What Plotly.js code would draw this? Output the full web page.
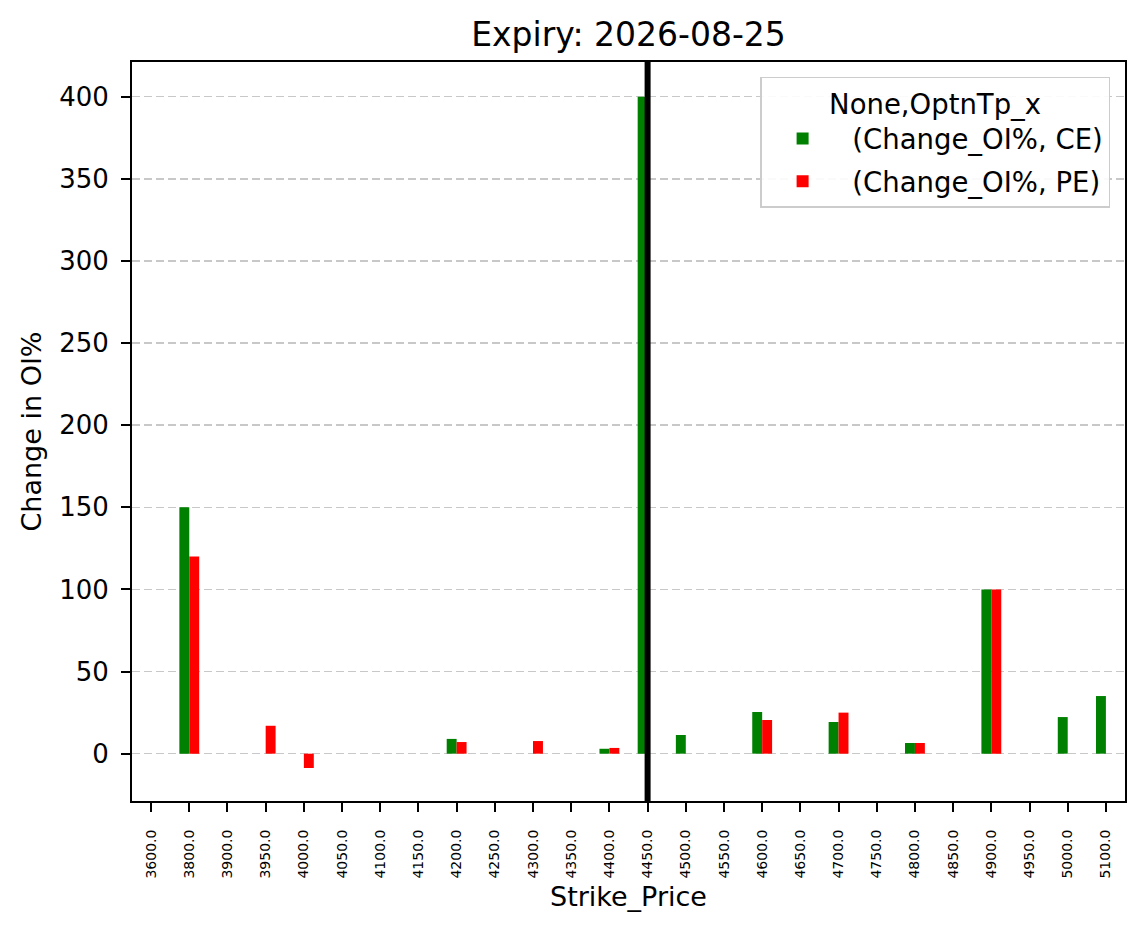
<!DOCTYPE html>
<html>
<head>
<meta charset="utf-8">
<script src="https://cdn.plot.ly/plotly-3.0.1.min.js"></script>
<style>html,body{margin:0;padding:0;background:#fff;}#chart{width:1143px;height:939px;}</style>
</head>
<body>
<div id="chart"></div>
<script>
const strikes = ["3600.0","3800.0","3900.0","3950.0","4000.0","4050.0","4100.0","4150.0","4200.0","4250.0","4300.0","4350.0","4400.0","4450.0","4500.0","4550.0","4600.0","4650.0","4700.0","4750.0","4800.0","4850.0","4900.0","4950.0","5000.0","5100.0"];
const ceChange = [null,150,null,null,null,null,null,null,9,null,null,null,3,400,11.4,null,25.4,null,19.3,null,6.5,null,100,null,22.3,35.1];
const peChange = [null,120,null,17,-8.7,null,null,null,7.1,null,7.7,null,3.5,null,null,null,20.5,null,25,null,6.5,null,100,null,null,null];
const spotStrike = "4450.0";
const seriesNames = [" (Change_OI%, CE)", " (Change_OI%, PE)"];
const yTicks = [0,50,100,150,200,250,300,350,400];

const font = "DejaVu Sans, sans-serif";
const traces = [
  {type:"bar", x:strikes, y:ceChange, name:seriesNames[0], legendgroup:"ce", marker:{color:"#008000", line:{width:0}}},
  {type:"bar", x:strikes, y:peChange, name:seriesNames[1], legendgroup:"pe", marker:{color:"#ff0000", line:{width:0}}}
];
const spotIdx = strikes.indexOf(spotStrike);
const layout = {
  width:1143, height:939,
  paper_bgcolor:"#fff", plot_bgcolor:"#fff",
  margin:{l:132, r:18, t:62, b:138, pad:0},
  font:{family:font, color:"#000", size:26},
  title:{text:"Expiry: 2026-08-25", font:{family:font, size:33, color:"#000"}, x:0.5, xref:"paper", xanchor:"center", y:0.963, yref:"container", yanchor:"middle"},
  barmode:"group", bargap:0.48, bargroupgap:0,
  showlegend:true,
  legend:{x:0.985, xanchor:"right", y:0.98, yanchor:"top", bgcolor:"rgba(255,255,255,0.9)", bordercolor:"#cccccc", borderwidth:1.5,
    font:{family:font, size:27.5, color:"#000"},
    title:{text:"None,OptnTp_x", side:"top center", font:{family:font, size:27.5, color:"#000"}},
    traceorder:"grouped", tracegroupgap:4, itemwidth:72},
  xaxis:{type:"category", categoryorder:"array", categoryarray:strikes, range:[-0.5, 25.5],
    showgrid:false, zeroline:false, showline:true, linecolor:"#000", linewidth:2, mirror:true,
    ticks:"outside", ticklen:9, tickwidth:2, tickcolor:"#000", tickangle:-90, ticklabelstandoff:12,
    tickfont:{family:font, size:14, color:"#000"},
    title:{text:"Strike_Price", font:{family:font, size:27, color:"#000"}, standoff:10}},
  yaxis:{range:[-28.8, 421.1], tickvals:yTicks,
    showgrid:true, gridcolor:"#c8c8c8", griddash:"8px,4px", gridwidth:1.5,
    zeroline:false, showline:true, linecolor:"#000", linewidth:2, mirror:true,
    ticks:"outside", ticklen:9, tickwidth:2, tickcolor:"#000", ticklabelstandoff:7,
    tickfont:{family:font, size:26, color:"#000"},
    title:{text:"Change in OI%", font:{family:font, size:27, color:"#000"}, standoff:10}},
  shapes:[{type:"line", xref:"x", yref:"paper", x0:spotIdx, x1:spotIdx, y0:0, y1:1, line:{color:"#000", width:6}, layer:"above"}]
};
Plotly.newPlot("chart", traces, layout, {displayModeBar:false, staticPlot:true});
</script>
</body>
</html>
